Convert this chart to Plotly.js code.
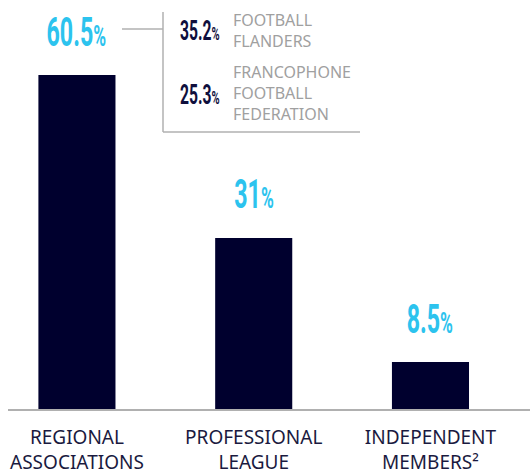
<!DOCTYPE html>
<html>
<head>
<meta charset="utf-8">
<script src="https://cdn.plot.ly/plotly-3.0.1.min.js"></script>
<style>html,body{margin:0;padding:0;background:#fff;}#chart{width:530px;height:476px;}</style>
</head>
<body>
<div id="chart"></div>
<script>
// ---- data ----
const categories = ["REGIONAL<br>ASSOCIATIONS", "PROFESSIONAL<br>LEAGUE", "INDEPENDENT<br>MEMBERS²"];
const shares = [60.5, 31, 8.5];
const valueLabels = ["60.5", "31", "8.5"];
const subValues = ["35.2", "25.3"];
const subNames = ["FOOTBALL<br>FLANDERS", "FRANCOPHONE<br>FOOTBALL<br>FEDERATION"];

const NAVY = "#00002e";
const CYAN = "#2cc3ee";
const GREY_LINE = "#b0b0b0";
const GREY_TEXT = "#a0a0a0";
const NUMFONT = "Roboto, sans-serif";
const TXTFONT = "'Noto Sans', Lato, sans-serif";

const trace = {
  type: "bar",
  x: categories,
  y: shares,
  marker: {color: NAVY},
  width: 0.436,
  hoverinfo: "skip",
  cliponaxis: false
};

const annotations = [];
const condensed = []; // [index, origin]
categories.forEach((c, i) => {
  condensed.push([annotations.length, "center center"]);
  annotations.push({
    x: c, y: shares[i], xref: "x", yref: "y",
    text: valueLabels[i] + "<span style='font-size:30px'>%</span>",
    showarrow: false, yshift: 43, xanchor: "center", yanchor: "middle",
    font: {family: NUMFONT, size: 40, color: CYAN, weight: 700}
  });
});

// callout box texts (paper coords)
const px = v => (v - 8) / 522;
const py = v => (409 - v) / 409;
const subY = [31, 95];
const nameY = [30, 93];
subValues.forEach((v, i) => {
  condensed.push([annotations.length, "left center"]);
  annotations.push({
    x: px(178), y: py(subY[i]), xref: "paper", yref: "paper",
    text: v + "<span style='font-size:19px'>%</span>", showarrow: false,
    xanchor: "left", yanchor: "middle",
    font: {family: NUMFONT, size: 27, color: "#0f0f3d", weight: 700}
  });
  annotations.push({
    x: px(231), y: py(nameY[i]), xref: "paper", yref: "paper",
    text: subNames[i], showarrow: false, align: "left",
    xanchor: "left", yanchor: "middle",
    font: {family: TXTFONT, size: 16, color: GREY_TEXT}
  });
});

const shapes = [
  {type: "line", xref: "paper", yref: "paper", x0: px(122), x1: px(163), y0: py(29), y1: py(29), line: {color: GREY_LINE, width: 1.5}},
  {type: "line", xref: "paper", yref: "paper", x0: px(163), x1: px(163), y0: py(12), y1: py(132), line: {color: GREY_LINE, width: 1.5}},
  {type: "line", xref: "paper", yref: "paper", x0: px(163), x1: px(360), y0: py(132), y1: py(132), line: {color: GREY_LINE, width: 1.5}}
];

const layout = {
  width: 530, height: 476,
  margin: {l: 8, r: 0, t: 0, b: 67, pad: 0},
  paper_bgcolor: "#fff", plot_bgcolor: "#fff",
  showlegend: false,
  xaxis: {
    type: "category", range: [-0.39, 2.563], fixedrange: true,
    showline: true, linecolor: GREY_LINE, linewidth: 1.5,
    ticks: "", showgrid: false, zeroline: false,
    tickfont: {family: TXTFONT, size: 19, color: "#1a1a40"},
    ticklabelstandoff: 11
  },
  yaxis: {
    range: [0, 74.1], visible: false, showgrid: false, zeroline: false, fixedrange: true
  },
  annotations: annotations,
  shapes: shapes
};

Plotly.newPlot("chart", [trace], layout, {staticPlot: true, displayModeBar: false}).then(gd => {
  condensed.forEach(([idx, origin]) => {
    const t = gd.querySelector('g.annotation[data-index="' + idx + '"] text.annotation-text');
    if (t) {
      t.style.transformBox = "fill-box";
      t.style.transformOrigin = origin;
      t.style.transform = "scaleX(0.58)";
    }
  });
});
</script>
</body>
</html>
